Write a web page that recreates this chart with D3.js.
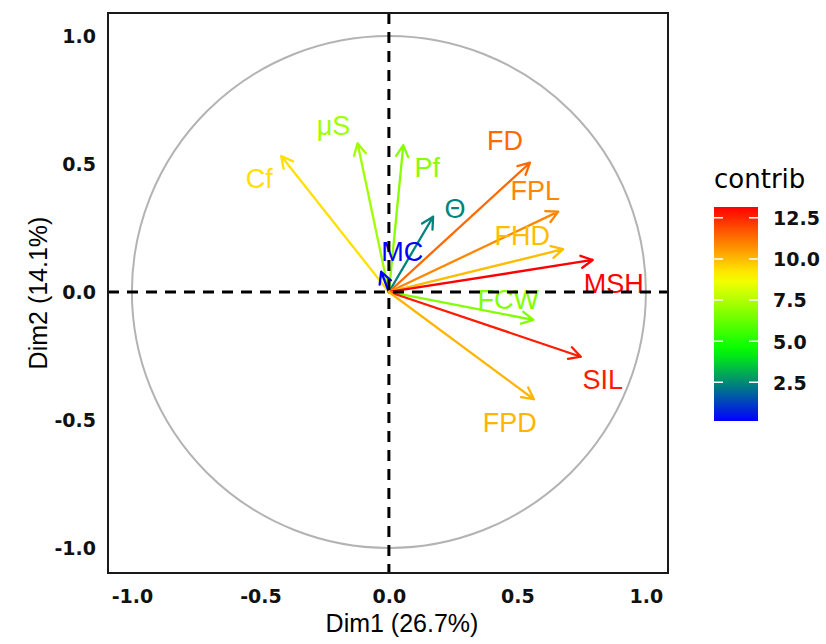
<!DOCTYPE html>
<html>
<head>
<meta charset="utf-8">
<script src="https://cdn.jsdelivr.net/npm/d3@7"></script>
<style>
  body { margin: 0; background: #fff; }
  text { font-family: "DejaVu Sans", sans-serif; }
  .lab, .title { font-family: "Liberation Sans", Arial, sans-serif; }
</style>
</head>
<body>
<div id="chart"></div>
<script>
// variables of the PCA correlation circle
const varNames = ["Cf", "μS", "Pf", "Θ", "MC", "FD", "FPL", "FHD", "MSH", "FCW", "SIL", "FPD"];
const dim1 = [-0.419, -0.122, 0.056, 0.172, -0.030, 0.549, 0.659, 0.678, 0.793, 0.562, 0.747, 0.564];
const dim2 = [0.531, 0.581, 0.574, 0.294, 0.079, 0.505, 0.314, 0.167, 0.125, -0.109, -0.253, -0.419];
const contrib = [9.35, 7.20, 6.79, 2.37, 0.15, 11.36, 10.88, 9.96, 13.16, 6.69, 12.70, 10.08];

const axisTicks = [-1, -0.5, 0, 0.5, 1];
const contribTicks = [2.5, 5, 7.5, 10, 12.5];
const gradientCols = ["blue", "#00FF00", "yellow", "red"];

// label nudges (px) away from the arrow tips, like ggrepel put them
const labelNudge = {
  "Cf": [-22, 22], "μS": [-24, -18], "Pf": [24, 22], "Θ": [22, -8],
  "MC": [21, -20], "FD": [-25, -22], "FPL": [-23, -21], "FHD": [-41, -14],
  "MSH": [21, 23], "FCW": [-25, -21], "SIL": [22, 23], "FPD": [-24, 23]
};

const width = 826, height = 644;
const panel = {left: 108, right: 668, top: 13, bottom: 573};

const svg = d3.select("#chart").append("svg")
  .attr("width", width)
  .attr("height", height);

const x = d3.scaleLinear().domain([-1.093, 1.086]).range([panel.left, panel.right]);
const y = d3.scaleLinear().domain([-1.098, 1.09]).range([panel.bottom, panel.top]);

const lo = d3.min(contrib), hi = d3.max(contrib);
const color = d3.scaleLinear()
  .domain(gradientCols.map((c, i) => lo + i * (hi - lo) / (gradientCols.length - 1)))
  .range(gradientCols);

// unit circle
svg.append("ellipse")
  .attr("cx", x(0)).attr("cy", y(0))
  .attr("rx", x(1) - x(0)).attr("ry", y(0) - y(1))
  .attr("fill", "none")
  .attr("stroke", "#b3b3b3")
  .attr("stroke-width", 2);

const data = varNames.map((name, i) => ({name: name, d1: dim1[i], d2: dim2[i], contrib: contrib[i]}));

// arrows
const arrows = svg.append("g").attr("class", "arrows");
data.forEach((d) => {
  let x0 = x(0), y0 = y(0), x1 = x(d.d1), y1 = y(d.d2);
  let ang = Math.atan2(y1 - y0, x1 - x0);
  let len = 13, spread = Math.PI / 6.5;
  let head = [ang + Math.PI - spread, ang + Math.PI + spread]
    .map((a) => [x1 + len * Math.cos(a), y1 + len * Math.sin(a)]);
  let path = `M ${x0} ${y0} L ${x1} ${y1}
    M ${head[0][0]} ${head[0][1]} L ${x1} ${y1} L ${head[1][0]} ${head[1][1]}`;
  arrows.append("path")
    .attr("d", path)
    .attr("fill", "none")
    .attr("stroke", color(d.contrib))
    .attr("stroke-width", 2.3)
    .attr("stroke-linecap", "round")
    .attr("stroke-linejoin", "round");
});

// labels
svg.append("g").selectAll("text")
  .data(data)
  .enter().append("text")
  .attr("class", "lab")
  .attr("x", (d) => x(d.d1) + labelNudge[d.name][0])
  .attr("y", (d) => y(d.d2) + labelNudge[d.name][1])
  .attr("dy", "0.36em")
  .attr("text-anchor", "middle")
  .attr("font-size", 27)
  .attr("fill", (d) => color(d.contrib))
  .text((d) => d.name);

// dashed reference lines on top
svg.append("line")
  .attr("x1", panel.left).attr("x2", panel.right)
  .attr("y1", y(0)).attr("y2", y(0));
svg.append("line")
  .attr("x1", x(0)).attr("x2", x(0))
  .attr("y1", panel.top).attr("y2", panel.bottom);
svg.selectAll("line")
  .attr("stroke", "#000")
  .attr("stroke-width", 3)
  .attr("stroke-dasharray", "11,8");

// panel border
svg.append("rect")
  .attr("x", panel.left).attr("y", panel.top)
  .attr("width", panel.right - panel.left)
  .attr("height", panel.bottom - panel.top)
  .attr("fill", "none")
  .attr("stroke", "#1a1a1a")
  .attr("stroke-width", 2);

// axes (plain hyphen minus, as R prints it)
const fmt = (v) => v.toFixed(1);
let xAxis = svg.append("g")
  .attr("transform", `translate(0,${panel.bottom})`)
  .call(d3.axisBottom(x).tickValues(axisTicks).tickFormat(fmt).tickSize(0).tickPadding(17));
let yAxis = svg.append("g")
  .attr("transform", `translate(${panel.left},0)`)
  .call(d3.axisLeft(y).tickValues(axisTicks).tickFormat(fmt).tickSize(0).tickPadding(12));
[xAxis, yAxis].forEach((a) => {
  a.select(".domain").remove();
  a.selectAll("text")
    .attr("font-family", "DejaVu Sans, sans-serif")
    .attr("font-size", 19)
    .attr("font-weight", "bold")
    .attr("fill", "#111");
});
yAxis.selectAll("text").attr("dy", "0.36em");

svg.append("text")
  .attr("class", "title")
  .attr("x", 402).attr("y", 632)
  .attr("text-anchor", "middle")
  .attr("font-size", 25)
  .text("Dim1 (26.7%)");
svg.append("text")
  .attr("class", "title")
  .attr("transform", `translate(47,${(panel.top + panel.bottom) / 2}) rotate(-90)`)
  .attr("text-anchor", "middle")
  .attr("font-size", 25)
  .text("Dim2 (14.1%)");

// colour bar legend
const bar = {x: 714, w: 44, top: 207, bottom: 421};
const legendScale = d3.scaleLinear().domain([lo, hi]).range([bar.bottom, bar.top]);

const grad = svg.append("defs").append("linearGradient")
  .attr("id", "contrib-grad")
  .attr("x1", 0).attr("y1", 1).attr("x2", 0).attr("y2", 0);
d3.range(0, 1.0001, 0.05).forEach((t) => {
  grad.append("stop")
    .attr("offset", t)
    .attr("stop-color", color(lo + t * (hi - lo)));
});

svg.append("text")
  .attr("x", bar.x).attr("y", 188)
  .attr("font-size", 26)
  .text("contrib");

svg.append("rect")
  .attr("x", bar.x).attr("y", bar.top)
  .attr("width", bar.w).attr("height", bar.bottom - bar.top)
  .attr("fill", "url(#contrib-grad)");

let legTicks = svg.append("g");
contribTicks.forEach((v) => {
  legTicks.append("path")
    .attr("d", `M ${bar.x} ${legendScale(v)} h 9 M ${bar.x + bar.w - 9} ${legendScale(v)} h 9`)
    .attr("stroke", "#fff")
    .attr("stroke-width", 1.5);
});

let legAxis = svg.append("g")
  .attr("transform", `translate(${bar.x + bar.w},0)`)
  .call(d3.axisRight(legendScale).tickValues(contribTicks).tickFormat(fmt).tickSize(0).tickPadding(15));
legAxis.select(".domain").remove();
legAxis.selectAll("text")
  .attr("font-family", "DejaVu Sans, sans-serif")
  .attr("font-size", 19)
  .attr("font-weight", "bold")
  .attr("dy", "0.36em")
  .attr("fill", "#111");
</script>
</body>
</html>
